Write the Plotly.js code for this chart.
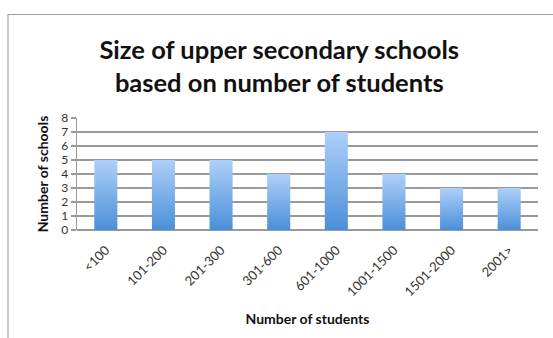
<!DOCTYPE html>
<html>
<head>
<meta charset="utf-8">
<script src="https://cdn.plot.ly/plotly-3.0.1.min.js"></script>
<style>
html,body{margin:0;padding:0;background:#fff;}
#chart{width:553px;height:338px;position:relative;}
#frame{position:absolute;left:7px;top:14px;width:546px;height:324px;border-top:1px solid #a0a0a0;border-left:2px solid #c8c8c8;pointer-events:none;}
</style>
</head>
<body>
<div id="chart"></div>
<div id="frame" style="position:absolute;"></div>
<script>
const categories = ["<100","101-200","201-300","301-600","601-1000","1001-1500","1501-2000","2001>"];
const schools = [5,5,5,4,7,4,3,3];
const yTicks = [0,1,2,3,4,5,6,7,8];
const chartTitle = "Size of upper secondary schools<br>based on number of students";
const xTitle = "Number of students";
const yTitle = "Number of schools";

const font = "Lato, 'Open Sans', 'Liberation Sans', sans-serif";
const trace = {
  type: "bar",
  x: categories,
  y: schools,
  marker: {color: "#79aee8", line: {width: 0}},
  hoverinfo: "x+y"
};
const layout = {
  width: 553, height: 338,
  margin: {l: 77, r: 15, t: 118, b: 108},
  paper_bgcolor: "rgba(0,0,0,0)",
  plot_bgcolor: "#fff",
  showlegend: false,
  bargap: 0.6,
  font: {family: font, color: "#222"},
  title: {text: chartTitle, font: {family: font, size: 25.5, color: "#111", weight: "bold"},
          x: 0.505, xanchor: "center", y: 0.825, yanchor: "top"},
  xaxis: {
    type: "category",
    tickangle: -45,
    tickfont: {size: 13, color: "#333"},
    ticklabelstandoff: 9,
    showgrid: false,
    showline: false,
    ticks: "",
    title: {text: "<b>" + xTitle + "</b>", font: {size: 14, color: "#111"}, standoff: 15}
  },
  yaxis: {
    range: [0, 8],
    tickvals: yTicks,
    ticktext: yTicks.map(String),
    tickfont: {size: 12, color: "#333"},
    showgrid: true, gridcolor: "#9a9a9a", gridwidth: 1.3,
    showline: true, linecolor: "#9a9a9a", linewidth: 1.3,
    ticks: "outside", ticklen: 5, tickcolor: "#9a9a9a", tickwidth: 1.3,
    zeroline: true, zerolinecolor: "#9a9a9a", zerolinewidth: 1.3,
    title: {text: "<b>" + yTitle + "</b>", font: {size: 14, color: "#111"}, standoff: 9},
    fixedrange: true
  }
};
Plotly.newPlot("chart", [trace], layout, {displayModeBar: false, staticPlot: true}).then(function(gd){
  const svg = gd.querySelector("svg.main-svg");
  const ns = "http://www.w3.org/2000/svg";
  let defs = svg.querySelector("defs");
  if (!defs) { defs = document.createElementNS(ns, "defs"); svg.insertBefore(defs, svg.firstChild); }
  const g = document.createElementNS(ns, "linearGradient");
  g.setAttribute("id", "barGrad");
  g.setAttribute("x1", "0"); g.setAttribute("y1", "0");
  g.setAttribute("x2", "0"); g.setAttribute("y2", "1");
  [["0%", "#aed0fa"], ["100%", "#4b8fd9"]].forEach(function(s){
    const st = document.createElementNS(ns, "stop");
    st.setAttribute("offset", s[0]); st.setAttribute("stop-color", s[1]);
    g.appendChild(st);
  });
  defs.appendChild(g);
  gd.querySelectorAll(".bars .point path").forEach(function(p){
    p.style.fill = "url(#barGrad)";
  });
});
</script>
</body>
</html>
